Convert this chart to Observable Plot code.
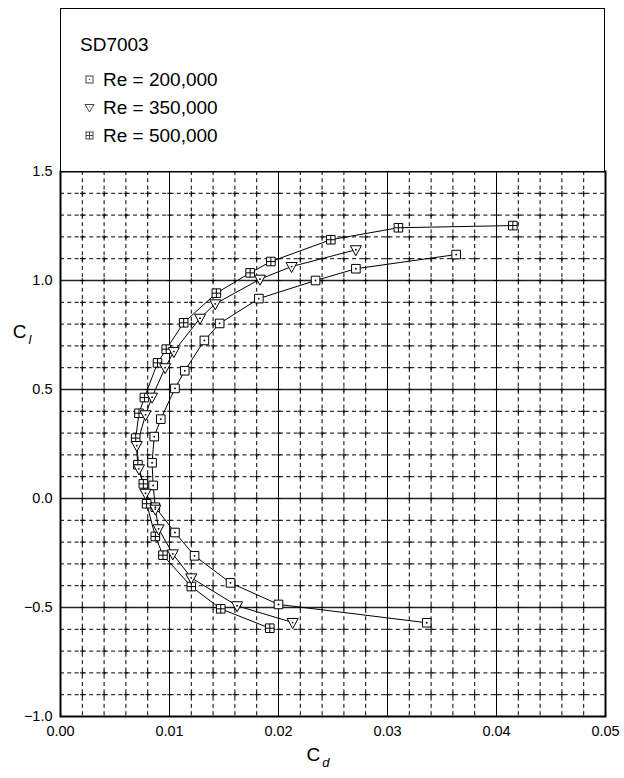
<!DOCTYPE html>
<html><head><meta charset="utf-8">
<script src="https://cdn.jsdelivr.net/npm/d3@7"></script>
<script src="https://cdn.jsdelivr.net/npm/@observablehq/plot@0.6"></script>
<style>
body{margin:0;background:#fff;font-family:"Liberation Sans",Arial,sans-serif;}
#wrap{position:relative;width:624px;height:778px;}
#legend{position:absolute;left:60px;top:8px;width:545px;height:164px;border:1.5px solid #000;box-sizing:border-box;background:#fff;}
#legend .title{position:absolute;left:19px;top:25px;font-size:19px;line-height:22px;}
#legend .item{position:absolute;left:23px;font-size:19px;line-height:22px;display:flex;align-items:center;}
#legend .item svg{margin-right:8px;}
</style></head><body>
<div id="wrap"><div id="plot"></div><div id="legend"></div></div>
<script>
const airfoil = "SD7003";
const seriesNames = ["Re = 200,000", "Re = 350,000", "Re = 500,000"];

const cl200 = [-0.570, -0.486, -0.387, -0.263, -0.156, -0.040, 0.060, 0.164, 0.284, 0.364, 0.505, 0.586, 0.725, 0.803, 0.917, 1.000, 1.054, 1.119];
const cd200 = [0.0336, 0.0200, 0.0156, 0.0123, 0.0105, 0.0087, 0.0085, 0.0084, 0.0086, 0.0092, 0.0105, 0.0114, 0.0132, 0.0146, 0.0182, 0.0234, 0.0271, 0.0363];

const cl350 = [-0.569, -0.492, -0.364, -0.254, -0.139, -0.049, 0.024, 0.136, 0.243, 0.384, 0.465, 0.600, 0.674, 0.827, 0.893, 1.006, 1.064, 1.141];
const cd350 = [0.0213, 0.0162, 0.0120, 0.0103, 0.0090, 0.0087, 0.0078, 0.0072, 0.0070, 0.0078, 0.0084, 0.0096, 0.0104, 0.0128, 0.0142, 0.0183, 0.0212, 0.0271];

const cl500 = [-0.595, -0.506, -0.404, -0.260, -0.174, -0.024, 0.067, 0.155, 0.277, 0.391, 0.463, 0.622, 0.685, 0.806, 0.942, 1.035, 1.087, 1.187, 1.242, 1.252];
const cd500 = [0.0192, 0.0147, 0.0120, 0.0094, 0.0087, 0.0079, 0.0076, 0.0071, 0.0069, 0.0072, 0.0077, 0.0089, 0.0097, 0.0113, 0.0143, 0.0174, 0.0193, 0.0248, 0.0310, 0.0415];

const xTicks = [0, 0.01, 0.02, 0.03, 0.04, 0.05];
const yTicks = [-1.0, -0.5, 0.0, 0.5, 1.0, 1.5];
const xMinor = [0.002, 0.004, 0.006, 0.008, 0.012, 0.014, 0.016, 0.018, 0.022, 0.024, 0.026, 0.028, 0.032, 0.034, 0.036, 0.038, 0.042, 0.044, 0.046, 0.048];
const yMinor = [-0.9, -0.8, -0.7, -0.6, -0.4, -0.3, -0.2, -0.1, 0.1, 0.2, 0.3, 0.4, 0.6, 0.7, 0.8, 0.9, 1.1, 1.2, 1.3, 1.4];

const mk = (cd, cl, s) => cd.map((d, i) => ({cd: d, cl: cl[i], s}));
const data = [
  ...mk(cd200, cl200, seriesNames[0]),
  ...mk(cd350, cl350, seriesNames[1]),
  ...mk(cd500, cl500, seriesNames[2])
];

const H = 4.3;
const symSquare = {draw(c) { c.moveTo(-H, -H); c.lineTo(H, -H); c.lineTo(H, H); c.lineTo(-H, H); c.closePath(); }};
const symCross = {draw(c) { c.moveTo(-H, -H); c.lineTo(H, -H); c.lineTo(H, H); c.lineTo(-H, H); c.closePath(); c.moveTo(0, -H); c.lineTo(0, H); c.moveTo(-H, 0); c.lineTo(H, 0); }};
const symTri = {draw(c) { c.moveTo(-5.5, -4); c.lineTo(5.5, -4); c.lineTo(0, 6); c.closePath(); }};
const symFor = {[seriesNames[0]]: symSquare, [seriesNames[1]]: symTri, [seriesNames[2]]: symCross};

const inter = [];
for (const x of [...xMinor, ...xTicks.slice(1, -1)]) for (const y of [...yMinor, ...yTicks.slice(1, -1)]) inter.push({x, y});

const fmtY = d => (d < 0 ? "\u2212" : "") + Math.abs(d).toFixed(1);

const plot = Plot.plot({
  width: 624, height: 778,
  marginTop: 171, marginLeft: 60, marginRight: 19, marginBottom: 62,
  x: {domain: [0, 0.05]},
  y: {domain: [-1, 1.5]},
  style: {fontFamily: "'Liberation Sans', Arial, sans-serif", fontSize: "14.5px", color: "#000", background: "#fff"},
  marks: [
    Plot.ruleX(xMinor, {stroke: "#000", strokeWidth: 1, strokeDasharray: "4,3.3"}),
    Plot.ruleY(yMinor, {stroke: "#000", strokeWidth: 1, strokeDasharray: "4,3.3"}),
    Plot.ruleX(xTicks.slice(1, -1), {stroke: "#000", strokeWidth: 1}),
    Plot.ruleY(yTicks.slice(1, -1), {stroke: "#222", strokeWidth: 1.4}),
    Plot.dot(inter, {x: "x", y: "y", symbol: "plus", r: 1.6, stroke: "#000", strokeWidth: 1}),
    Plot.line(data, {x: "cd", y: "cl", z: "s", stroke: "#000", strokeWidth: 1}),
    Plot.dot(data.filter(d => d.s !== seriesNames[1]), {x: "cd", y: "cl", symbol: d => symFor[d.s], r: 4, fill: "#fff", stroke: "#000", strokeWidth: 1}),
    Plot.dot(data.filter(d => d.s === seriesNames[1]), {x: "cd", y: "cl", symbol: symTri, r: 4, fill: "#fff", stroke: "#000", strokeWidth: 1}),
    Plot.dot(data.filter(d => d.s !== seriesNames[2]), {x: "cd", y: "cl", r: 0.9, fill: "#000"}),
    Plot.axisX(xTicks, {tickSize: 0, tickPadding: 9, tickFormat: d => d.toFixed(2)}),
    Plot.axisY(yTicks, {tickSize: 0, tickPadding: 8, tickFormat: fmtY}),
    Plot.frame({stroke: "#000", strokeWidth: 2})
  ]
});
document.getElementById("plot").appendChild(plot);

const svg = d3.select(plot);
function label(x, y, sub) {
  const t = svg.append("text").attr("x", x).attr("y", y).attr("font-size", 19).attr("fill", "#000")
    .attr("font-family", "'Liberation Sans', Arial, sans-serif");
  t.append("tspan").text("C");
  t.append("tspan").attr("font-style", "italic").attr("font-size", 13).attr("dx", 2).attr("dy", 6).text(sub);
}
label(22, 338, "l");
label(318, 761, "d");

const leg = d3.select("#legend");
leg.append("div").attr("class", "title").text(airfoil);
const legSyms = [
  '<rect x="2" y="2" width="7" height="7" fill="#fff" stroke="#444"/><circle cx="5.5" cy="5.5" r="0.7" fill="#444"/>',
  '<path d="M1,2.5 L10,2.5 L5.5,10 Z" fill="#fff" stroke="#444"/><circle cx="5.5" cy="5" r="0.6" fill="#444"/>',
  '<rect x="2" y="2" width="7" height="7" fill="#fff" stroke="#444"/><path d="M5.5,2 V9 M2,5.5 H9" stroke="#444"/>'
];
seriesNames.forEach((n, i) => {
  const it = leg.append("div").attr("class", "item").style("top", (59.5 + 28 * i) + "px");
  it.append("svg").attr("width", 11).attr("height", 11).html(legSyms[i]);
  it.append("span").text(n);
});
</script>
</body></html>
